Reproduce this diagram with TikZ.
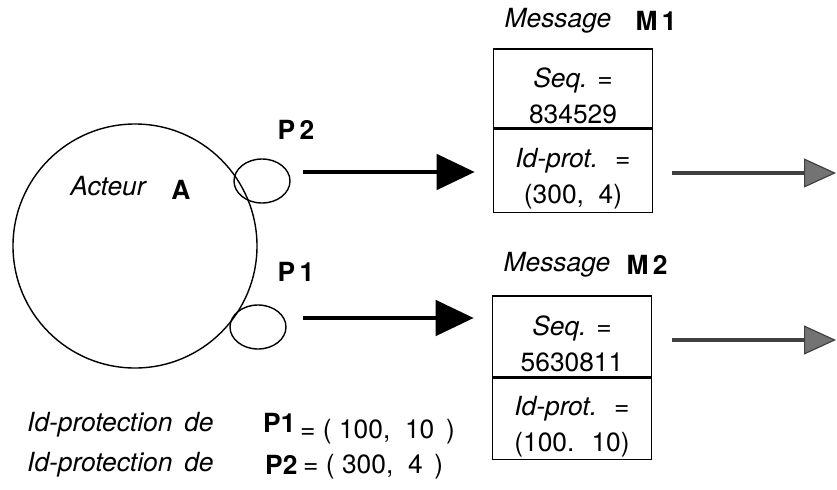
\documentclass[tikz,border=0pt]{standalone}
\usepackage{fontspec}
\setmainfont{TeX Gyre Heros}
\usetikzlibrary{arrows.meta,positioning,shapes.geometric}

% extra room above the first line of a cell
\newcommand{\celltop}{\rule{0pt}{29pt}}

\tikzset{
  every node/.style={font=\fontsize{22.5}{31}\selectfont, inner sep=0pt},
  port/.style={draw, ellipse, line width=1.2pt, minimum width=16.8mm, minimum height=13.2mm},
  cell/.style={draw, line width=1.3pt, minimum width=47.7mm, minimum height=24.3mm, align=center},
  sendarrow/.style={line width=4pt, -{Triangle[length=11.4mm,width=10.5mm]}},
  fwdarrow/.style={draw=black!75, line width=3pt,
    -{Triangle[length=9.6mm,width=8.7mm,fill=black!55,line width=1pt]}},
}

\begin{document}
\begin{tikzpicture}[x=0.3mm, y=-0.3mm]
    \useasboundingbox (0,0) rectangle (837,489);

    % the actor and its two ports
    \node[draw, circle, line width=1.2pt, minimum size=73.2mm] (acteur) at (135,246) {};
    \node (nomA) at (108,186) {\itshape Acteur};
    \node (lettreA) at (181,190) {\bfseries A};

    \node[port] (p2) at (262,181) {};
    \node[port] (p1) at (258,327) {};
    \node (lp2) at (296,130) {\bfseries P\,2};
    \node (lp1) at (296,272) {\bfseries P\,1};

    % message M1
    \node (msg1) at (558,21) {\itshape Message};
    \node (nom1) at (656,21) {\bfseries M\,1};
    \node[cell, minimum height=23.7mm] (seq1) at (573,88.5) {\celltop\itshape Seq. =\\ 834529};
    \node[cell, minimum height=24.9mm, below=0pt of seq1] (id1) {\celltop\itshape Id-prot. \ =\\ (300, \ 4)};

    % message M2
    \node (msg2) at (557,265) {\itshape Message};
    \node (nom2) at (647,265) {\bfseries M\,2};
    \node[cell] (seq2) at (572,336.5) {\celltop\itshape Seq. =\\ 5630811};
    \node[cell, below=0pt of seq2] (id2) {\celltop\itshape Id-prot. \ =\\ (100. \ 10)};

    % sending and forwarding
    \coordinate (s2) at (303,172);
    \coordinate (s1) at (303,318);
    \draw[sendarrow, shorten >=5.4mm] (s2) -- (s2 -| seq1.west);
    \draw[sendarrow, shorten >=5.4mm] (s1) -- (s1 -| seq2.west);

    \coordinate (f1) at (836,173);
    \coordinate (f2) at (836,340);
    \draw[fwdarrow, shorten <=5.7mm] (f1 -| id1.east) -- (f1);
    \draw[fwdarrow, shorten <=6mm] (f2 -| seq2.east) -- (f2);

    % protection identifiers of the ports
    \node[anchor=west] (def1) at (27,425) {\itshape Id-protection\hspace{0.45em}de};
    \node[anchor=west] (pdef1) at (263,423) {\bfseries P1};
    \node[anchor=west] (val1) at (300,432) {= ( 100, \ 10 \,)};
    \node[anchor=west] (def2) at (27,465) {\itshape Id-protection\hspace{0.45em}de};
    \node[anchor=west] (pdef2) at (265,465) {\bfseries P2};
    \node[anchor=west] (val2) at (303,467) {= ( 300, \ 4 \,)};
\end{tikzpicture}
\end{document}
